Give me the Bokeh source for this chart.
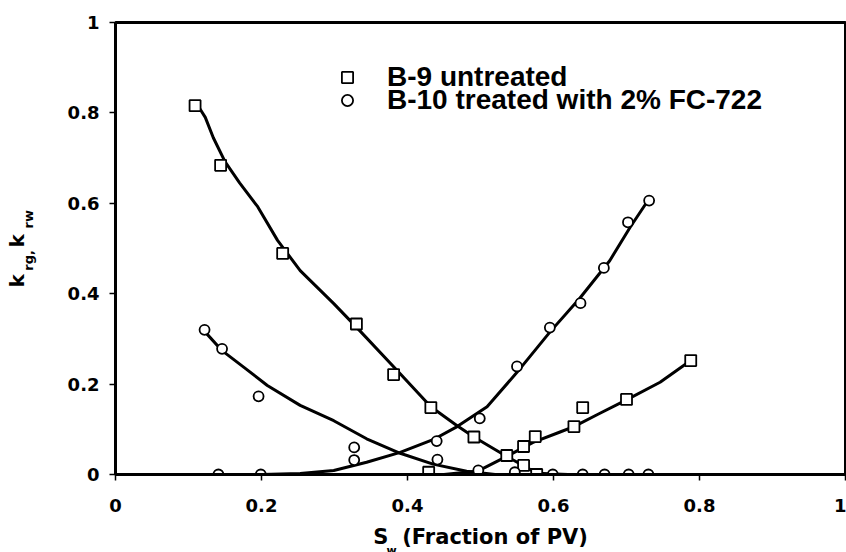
import math
from bokeh.plotting import figure
from bokeh.models import Title, Legend, LegendItem, FixedTicker, Range1d
from bokeh.embed import file_html
from bokeh.resources import INLINE

# ---- data ----
# B-9 untreated (squares)
sw_b9_krg = [0.109, 0.144, 0.229, 0.330, 0.381, 0.432, 0.491, 0.536, 0.559, 0.577]
b9_krg = [0.816, 0.684, 0.489, 0.333, 0.221, 0.148, 0.083, 0.042, 0.020, 0.000]
sw_b9_krw = [0.429, 0.559, 0.575, 0.628, 0.640, 0.700, 0.788]
b9_krw = [0.005, 0.062, 0.084, 0.106, 0.148, 0.166, 0.252]
# B-10 treated with 2% FC-722 (circles)
sw_b10_krg = [0.122, 0.146, 0.196, 0.327, 0.441, 0.497, 0.547, 0.599, 0.640, 0.670, 0.703, 0.730]
b10_krg = [0.320, 0.278, 0.173, 0.060, 0.033, 0.009, 0.005, 0.000, 0.000, 0.000, 0.000, 0.000]
sw_b10_krw = [0.141, 0.199, 0.327, 0.440, 0.499, 0.550, 0.595, 0.637, 0.669, 0.702, 0.731]
b10_krw = [0.000, 0.000, 0.032, 0.074, 0.124, 0.239, 0.325, 0.379, 0.457, 0.558, 0.606]

# fitted curves
fit_b9_krg_sw = [0.109, 0.116, 0.123, 0.134, 0.150, 0.170, 0.195, 0.222, 0.253, 0.299, 0.330, 0.390, 0.432, 0.468, 0.491, 0.536, 0.577, 0.620]
fit_b9_krg = [0.816, 0.808, 0.790, 0.745, 0.692, 0.645, 0.592, 0.518, 0.451, 0.378, 0.326, 0.223, 0.150, 0.108, 0.083, 0.040, 0.003, 0.000]
fit_b9_krw_sw = [0.450, 0.497, 0.536, 0.572, 0.609, 0.628, 0.663, 0.700, 0.746, 0.788]
fit_b9_krw = [0.000, 0.008, 0.040, 0.071, 0.094, 0.106, 0.135, 0.165, 0.204, 0.252]
fit_b10_krg_sw = [0.123, 0.146, 0.176, 0.208, 0.253, 0.299, 0.344, 0.390, 0.435, 0.481, 0.520, 0.600]
fit_b10_krg = [0.315, 0.274, 0.237, 0.197, 0.153, 0.119, 0.079, 0.047, 0.023, 0.007, 0.000, 0.000]
fit_b10_krw_sw = [0.140, 0.200, 0.253, 0.299, 0.344, 0.390, 0.435, 0.468, 0.509, 0.550, 0.595, 0.636, 0.677, 0.705, 0.731]
fit_b10_krw = [0.000, 0.000, 0.002, 0.009, 0.027, 0.049, 0.077, 0.106, 0.150, 0.226, 0.315, 0.390, 0.473, 0.547, 0.610]

tick_values = [0, 0.2, 0.4, 0.6, 0.8, 1]
tick_labels = ["0", "0.2", "0.4", "0.6", "0.8", "1"]
legend_labels = ["B-9 untreated", "B-10 treated with 2% FC-722"]

FONT = "DejaVu Sans"
EM, EN, THREE, FOUR, SIX = "\u2003", "\u2002", "\u2004", "\u2005", "\u2006"

p = figure(width=846, height=552, output_backend="svg", toolbar_location=None,
           x_range=Range1d(0, 1), y_range=Range1d(0, 1),
           min_border_left=115, min_border_right=1, min_border_top=22, min_border_bottom=78)
p.grid.visible = False
p.outline_line_color = "black"
p.outline_line_width = 3
p.background_fill_color = "white"
p.border_fill_color = "white"

for ax in (p.xaxis[0], p.yaxis[0]):
    ax.ticker = FixedTicker(ticks=tick_values)
    ax.major_label_overrides = dict(zip(tick_values, tick_labels))
    ax.axis_line_width = 3
    ax.axis_line_color = "black"
    ax.major_tick_line_width = 1.5
    ax.major_tick_in = 0
    ax.major_tick_out = 6
    ax.minor_tick_line_color = None
    ax.major_label_text_font = FONT
    ax.major_label_text_font_style = "bold"
    ax.major_label_text_font_size = "18px"
    ax.major_label_text_color = "black"
    ax.axis_label_text_font = FONT
    ax.axis_label_text_font_style = "bold"
    ax.axis_label_text_color = "black"
p.xaxis[0].major_label_standoff = 18
p.yaxis[0].major_label_standoff = 10

# x title: "S_w (Fraction of PV)"
p.xaxis[0].axis_label = "S" + EN + SIX + "(Fraction of PV)"
p.xaxis[0].axis_label_text_font_size = "21px"
p.xaxis[0].axis_label_standoff = 10
p.add_layout(Title(text="w", text_font=FONT, text_font_style="bold", text_font_size="11px",
                   text_color="black", align="left", offset=271, vertical_align="top",
                   standoff=-15), "below")

# y title: "k_rg, k_rw" -> subscripts in the axis label, the k's in a side title
p.yaxis[0].axis_label = EM + FOUR + "rg," + EM + EN + SIX + "rw"
p.yaxis[0].axis_label_text_font_size = "13px"
p.yaxis[0].axis_label_standoff = 29
p.add_layout(Title(text="k" + EM + THREE + "k", text_font=FONT, text_font_style="bold",
                   text_font_size="20px", text_color="black", align="left", offset=187,
                   vertical_align="bottom", standoff=-22), "left")

# curves
for xs, ys in ((fit_b9_krg_sw, fit_b9_krg), (fit_b9_krw_sw, fit_b9_krw),
               (fit_b10_krg_sw, fit_b10_krg), (fit_b10_krw_sw, fit_b10_krw)):
    p.line(xs, ys, line_color="black", line_width=3, line_join="round", line_cap="round")

# markers
r_sq = p.scatter(sw_b9_krg, b9_krg, marker="square", size=11, fill_color="white", line_color="black", line_width=1.8)
p.scatter(sw_b9_krw, b9_krw, marker="square", size=11, fill_color="white", line_color="black", line_width=1.8)
r_ci = p.scatter(sw_b10_krg, b10_krg, marker="circle", size=10, fill_color="white", line_color="black", line_width=1.8)
p.scatter(sw_b10_krw, b10_krw, marker="circle", size=10, fill_color="white", line_color="black", line_width=1.8)

# legend (one per line for tight spacing)
def make_legend(label, rend, loc):
    lg = Legend(items=[LegendItem(label=label, renderers=[rend])], location=loc,
                label_text_font="Liberation Sans", label_text_font_style="bold",
                label_text_font_size="28px", label_text_color="black",
                glyph_width=28, glyph_height=28, label_standoff=26, label_height=32,
                padding=0, margin=0, spacing=0, border_line_color=None,
                background_fill_alpha=0)
    p.add_layout(lg)

make_legend(legend_labels[0], r_sq, (218, 381))
make_legend(legend_labels[1], r_ci, (218, 358))

open("out.html", "w").write(file_html(p, INLINE))
